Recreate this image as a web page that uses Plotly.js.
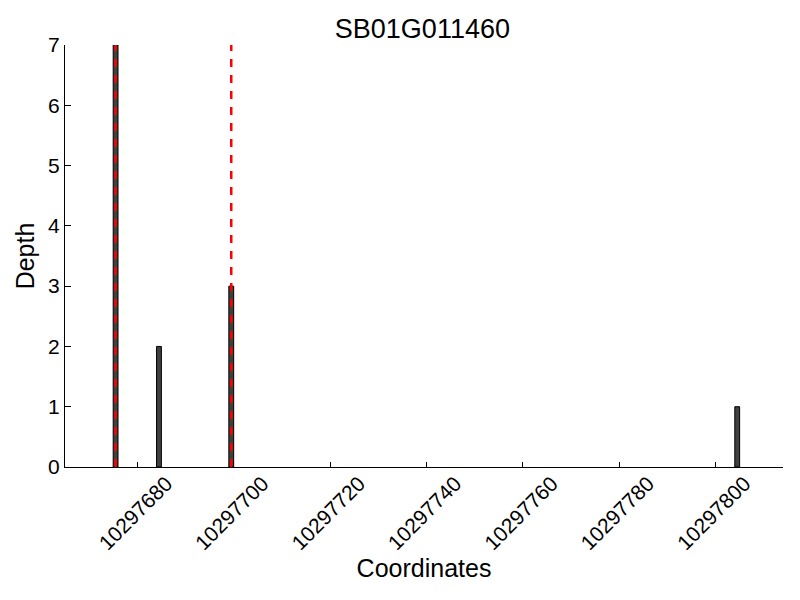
<!DOCTYPE html>
<html>
<head>
<meta charset="utf-8">
<script src="https://cdn.plot.ly/plotly-3.0.1.min.js"></script>
<style>html,body{margin:0;padding:0;background:#fff;}</style>
</head>
<body>
<div id="chart" style="width:800px;height:600px;"></div>
<script>
// Data
const barStarts = [10297675, 10297684, 10297699, 10297804];
const depths = [7, 2, 3, 1];
const markerLines = [10297675.5, 10297699.5];
const xTicks = [10297680, 10297700, 10297720, 10297740, 10297760, 10297780, 10297800];
const yTicks = [0, 1, 2, 3, 4, 5, 6, 7];
const chartTitle = 'SB01G011460';
const xLabel = 'Coordinates';
const yLabel = 'Depth';

const FONT = 'Liberation Sans, Arial, Helvetica, sans-serif';

const traces = [{
  type: 'bar',
  x: barStarts,
  y: depths,
  width: 1,
  offset: 0,
  marker: {color: '#404040', line: {color: '#000000', width: 1}},
  hoverinfo: 'x+y',
  showlegend: false
}];
markerLines.forEach(v => {
  traces.push({
    type: 'scatter',
    mode: 'lines',
    x: [v, v],
    y: [yTicks[0], yTicks[yTicks.length - 1]],
    line: {color: '#ff0000', width: 2.5, dash: '8px,8px'},
    showlegend: false,
    hoverinfo: 'skip'
  });
});

const layout = {
  width: 800,
  height: 600,
  paper_bgcolor: '#ffffff',
  plot_bgcolor: '#ffffff',
  margin: {l: 65, r: 17, t: 45, b: 133},
  font: {family: FONT, color: '#000000'},
  title: {text: chartTitle, font: {family: FONT, size: 27, color: '#000'}, x: 0.528, xanchor: 'center', y: 0.952, yanchor: 'middle'},
  bargap: 0,
  xaxis: {
    range: [10297665, 10297814],
    tickvals: xTicks,
    ticktext: xTicks.map(String),
    tickangle: -45,
    ticks: 'inside',
    ticklen: 5,
    tickcolor: '#000',
    tickwidth: 1,
    ticklabelshift: 29,
    ticklabelstandoff: -5,
    tickfont: {family: FONT, size: 21, color: '#000'},
    showline: true,
    linecolor: '#000',
    linewidth: 1.2,
    showgrid: false,
    zeroline: false,
    title: {text: xLabel, font: {family: FONT, size: 25, color: '#000'}, standoff: 6}
  },
  yaxis: {
    range: [0, 7],
    tickvals: yTicks,
    ticks: 'inside',
    ticklen: 6,
    tickcolor: '#000',
    tickwidth: 1,
    tickfont: {family: FONT, size: 21, color: '#000'},
    showline: true,
    linecolor: '#000',
    linewidth: 1.2,
    showgrid: false,
    zeroline: false,
    title: {text: yLabel, font: {family: FONT, size: 25, color: '#000'}, standoff: 6}
  }
};

Plotly.newPlot('chart', traces, layout, {displayModeBar: false, staticPlot: true});
</script>
</body>
</html>
